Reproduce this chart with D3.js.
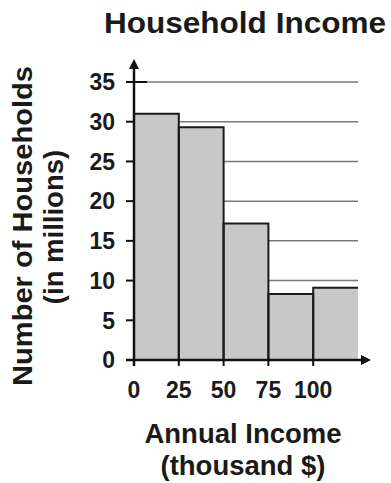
<!DOCTYPE html>
<html>
<head>
<meta charset="utf-8">
<script src="https://cdn.jsdelivr.net/npm/d3@7"></script>
<style>
  html, body { margin: 0; padding: 0; background: #fff; }
  svg { display: block; }
  text { font-family: "Liberation Sans", Arial, Helvetica, sans-serif; font-weight: bold; fill: #1a1a1a; }
</style>
</head>
<body>
<script>
// Histogram bins (thousand $) and household counts (millions)
const binStarts = [0, 25, 50, 75, 100];
const binEnds = [25, 50, 75, 100, 125];
const households = [31, 29.3, 17.2, 8.3, 9.1];
const xTicks = [0, 25, 50, 75, 100];
const yTicks = [0, 5, 10, 15, 20, 25, 30, 35];

const W = 391, H = 483;
const svg = d3.select("body").append("svg").attr("width", W).attr("height", H);

const x = d3.scaleLinear().domain([0, 125]).range([134, 358]);
const y = d3.scaleLinear().domain([0, 35]).range([360, 82]);

// horizontal grid lines
svg.append("g").selectAll("line").data(yTicks.filter(d => d > 0)).join("line")
  .attr("x1", x(0)).attr("x2", x(125))
  .attr("y1", d => y(d)).attr("y2", d => y(d))
  .attr("stroke", "#7a7a7a").attr("stroke-width", 1.5);

// y tick marks (the part inside the plot is hidden by the bars)
svg.append("g").selectAll("line").data(yTicks).join("line")
  .attr("x1", x(0) - 8).attr("x2", x(0) + 13)
  .attr("y1", d => y(d)).attr("y2", d => y(d))
  .attr("stroke", "#111").attr("stroke-width", 2);

const bins = binStarts.map((s, i) => ({ s, e: binEnds[i], v: households[i], last: i === binStarts.length - 1 }));

// bar fills
svg.append("g").selectAll("rect").data(bins).join("rect")
  .attr("x", d => x(d.s)).attr("width", d => x(d.e) - x(d.s))
  .attr("y", d => y(d.v)).attr("height", d => y(0) - y(d.v))
  .attr("fill", "#c8c8c8");

// bar outlines (the open-ended last bin has no right edge)
svg.append("g").selectAll("path").data(bins).join("path")
  .attr("d", d => {
    const p = d3.path();
    p.moveTo(x(d.s), y(0));
    p.lineTo(x(d.s), y(d.v));
    p.lineTo(x(d.e), y(d.v));
    if (!d.last) p.lineTo(x(d.e), y(0));
    return p.toString();
  })
  .attr("fill", "none").attr("stroke", "#1a1a1a").attr("stroke-width", 2);

// x tick marks
svg.append("g").selectAll("line").data(xTicks).join("line")
  .attr("x1", d => x(d)).attr("x2", d => x(d))
  .attr("y1", y(0)).attr("y2", y(0) + 6)
  .attr("stroke", "#111").attr("stroke-width", 2);

// axes with arrowheads
svg.append("line").attr("x1", x(0) - 8).attr("x2", 364).attr("y1", y(0)).attr("y2", y(0))
  .attr("stroke", "#111").attr("stroke-width", 2.5);
svg.append("line").attr("x1", x(0)).attr("x2", x(0)).attr("y1", y(0) + 6).attr("y2", 66)
  .attr("stroke", "#111").attr("stroke-width", 2.5);
svg.append("path").attr("d", `M${x(0)},59 L${x(0) - 5},69 L${x(0) + 5},69 Z`).attr("fill", "#111");
svg.append("path").attr("d", `M371,${y(0)} L361,${y(0) - 5} L361,${y(0) + 5} Z`).attr("fill", "#111");

// tick labels
svg.append("g").selectAll("text").data(yTicks).join("text")
  .attr("x", 115).attr("y", d => y(d)).attr("dy", "0.36em")
  .attr("text-anchor", "end").attr("font-size", 23)
  .text(d => d);
svg.append("g").selectAll("text").data(xTicks).join("text")
  .attr("x", d => x(d)).attr("y", 398)
  .attr("text-anchor", "middle").attr("font-size", 23)
  .text(d => d);

// titles
svg.append("text").attr("x", 245).attr("y", 33).attr("text-anchor", "middle")
  .attr("font-size", 29).attr("textLength", 282).attr("lengthAdjust", "spacingAndGlyphs")
  .text("Household Income");
svg.append("text").attr("x", 243).attr("y", 443).attr("text-anchor", "middle")
  .attr("font-size", 27.5).text("Annual Income");
svg.append("text").attr("x", 243).attr("y", 475).attr("text-anchor", "middle")
  .attr("font-size", 27.5).text("(thousand $)");
svg.append("text").attr("transform", "translate(32,226) rotate(-90)").attr("text-anchor", "middle")
  .attr("font-size", 27.5).attr("textLength", 320).attr("lengthAdjust", "spacingAndGlyphs")
  .text("Number of Households");
svg.append("text").attr("transform", "translate(63,227) rotate(-90)").attr("text-anchor", "middle")
  .attr("font-size", 27.5).text("(in millions)");
</script>
</body>
</html>
